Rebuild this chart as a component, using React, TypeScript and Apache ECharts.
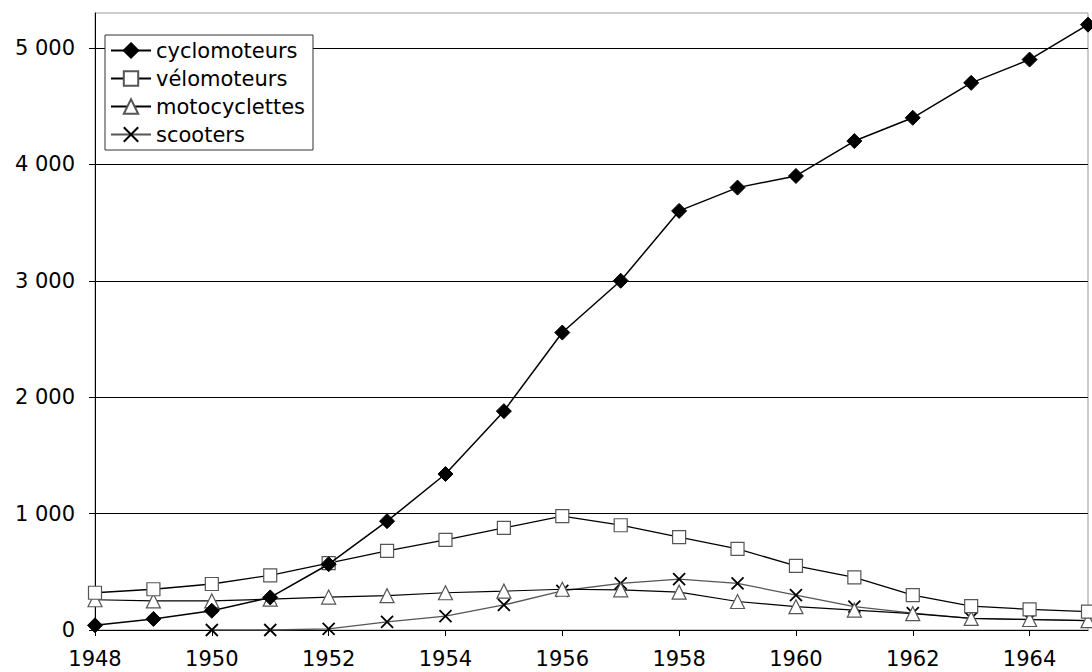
import React, { useEffect, useRef } from "react";
import * as echarts from "echarts";

const years = ["1948","1949","1950","1951","1952","1953","1954","1955","1956","1957","1958","1959","1960","1961","1962","1963","1964","1965"];
const cyclomoteurs = [40, 95, 165, 280, 565, 935, 1340, 1880, 2555, 3000, 3600, 3800, 3900, 4200, 4400, 4700, 4900, 5200];
const velomoteurs = [320, 350, 395, 470, 575, 680, 775, 877, 978, 900, 797, 697, 551, 452, 300, 205, 178, 157];
const motocyclettes = [260, 250, 250, 265, 283, 295, 320, 334, 350, 345, 325, 245, 200, 170, 140, 100, 90, 80];
const scooters = [null, null, 0, 0, 10, 70, 120, 215, 337, 400, 437, 400, 300, 200, 145, 100, 90, 80];

const FONT = "DejaVu Sans";
const X_SYMBOL = "path://M0,0L10,10M10,0L0,10";

export default function App() {
  const ref = useRef<HTMLDivElement>(null);
  useEffect(() => {
    const chart = echarts.init(ref.current!, null, { renderer: "svg" });
    chart.setOption({
      animation: false,
      backgroundColor: "#fff",
      textStyle: { fontFamily: FONT },
      grid: {
        left: 95, right: 4, top: 13, bottom: 42,
        show: true, borderColor: "#999", borderWidth: 1,
      },
      legend: {
        orient: "vertical",
        left: 105, top: 35,
        backgroundColor: "#fff",
        borderColor: "#333", borderWidth: 1,
        padding: [5, 8, 5, 5],
        itemWidth: 40, itemHeight: 18, itemGap: 7,
        textStyle: { fontFamily: FONT, fontSize: 21, color: "#000" },
        data: ["cyclomoteurs", "vélomoteurs", "motocyclettes", "scooters"],
      },
      xAxis: {
        type: "category",
        data: years,
        boundaryGap: false,
        axisLine: { lineStyle: { color: "#000", width: 1 } },
        axisTick: { interval: 1, length: 6, lineStyle: { color: "#000" } },
        axisLabel: { interval: 1, fontFamily: FONT, fontSize: 21, color: "#000", margin: 18 },
        splitLine: { show: false },
      },
      yAxis: {
        type: "value",
        min: 0, max: 5300, interval: 1000,
        axisLine: { show: true, lineStyle: { color: "#000", width: 1 } },
        axisTick: { show: true, length: 6, lineStyle: { color: "#000" } },
        axisLabel: {
          fontFamily: FONT, fontSize: 21, color: "#000", margin: 20,
          showMaxLabel: false,
          formatter: (v: number) => (v % 1000 === 0 ? String(v).replace(/\B(?=(\d{3})+(?!\d))/g, " ") : ""),
        },
        splitLine: { show: true, showMaxLine: false, lineStyle: { color: "#000", width: 1 } },
      },
      series: [
        {
          name: "cyclomoteurs", type: "line", data: cyclomoteurs,
          symbol: "diamond", symbolSize: 15,
          itemStyle: { color: "#000", borderColor: "#000", borderWidth: 1 },
          lineStyle: { color: "#000", width: 1.5 },
          z: 5,
        },
        {
          name: "vélomoteurs", type: "line", data: velomoteurs,
          symbol: "rect", symbolSize: 13,
          itemStyle: { color: "#fff", borderColor: "#555", borderWidth: 1.2 },
          lineStyle: { color: "#000", width: 1.3 },
          z: 4,
        },
        {
          name: "motocyclettes", type: "line", data: motocyclettes,
          symbol: "triangle", symbolSize: 14,
          itemStyle: { color: "#fff", borderColor: "#555", borderWidth: 1.2 },
          lineStyle: { color: "#000", width: 1.2 },
          z: 3,
        },
        {
          name: "scooters", type: "line", data: scooters,
          symbol: X_SYMBOL, symbolSize: 12,
          itemStyle: { color: "none", borderColor: "#000", borderWidth: 1.8 },
          lineStyle: { color: "#555", width: 1.3 },
          connectNulls: false,
          z: 2,
        },
      ],
    });
    return () => chart.dispose();
  }, []);
  return <div ref={ref} style={{ position: "fixed", left: 0, top: 0, width: 1092, height: 672 }} />;
}
